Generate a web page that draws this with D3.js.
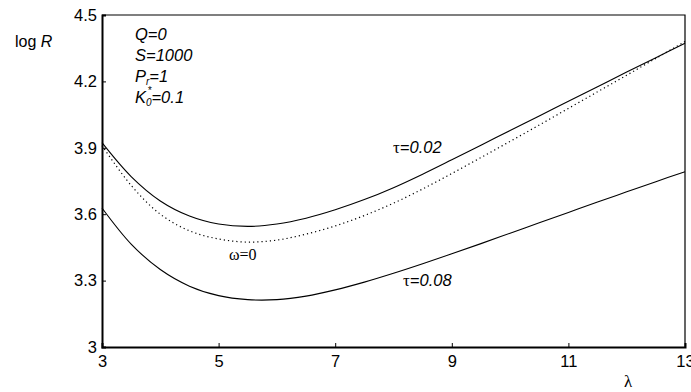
<!DOCTYPE html>
<html>
<head>
<meta charset="utf-8">
<script src="https://cdn.jsdelivr.net/npm/d3@7.9.0/dist/d3.min.js"></script>
<style>
  body { margin: 0; background: #fff; }
  svg { display: block; }
  text { font-family: Arial, "Liberation Sans", sans-serif; fill: #000; }
  .serif { font-family: "Times New Roman", "Liberation Serif", serif; }
</style>
</head>
<body>
<svg width="691" height="392"></svg>
<script>
// lambda values (x axis)
const lambda = [3, 3.5, 4, 4.5, 5, 5.5, 6, 6.5, 7, 7.5, 8, 8.5, 9, 9.5, 10, 10.5, 11, 11.5, 12, 12.5, 13];
// log R, tau = 0.02
const tau002 = [3.923, 3.77, 3.66, 3.592, 3.556, 3.545, 3.556, 3.582, 3.62, 3.666, 3.72, 3.781, 3.846, 3.912, 3.978, 4.044, 4.11, 4.176, 4.242, 4.307, 4.372];
// log R, omega = 0 (dotted)
const omega0 = [3.91, 3.73, 3.6, 3.525, 3.488, 3.474, 3.483, 3.51, 3.547, 3.594, 3.65, 3.714, 3.784, 3.856, 3.929, 4.003, 4.078, 4.153, 4.228, 4.304, 4.38];
// log R, tau = 0.08
const tau008 = [3.628, 3.465, 3.35, 3.275, 3.232, 3.214, 3.214, 3.23, 3.258, 3.293, 3.333, 3.376, 3.421, 3.467, 3.514, 3.561, 3.608, 3.655, 3.701, 3.747, 3.792];

const xTicks = [3, 5, 7, 9, 11, 13];
const yTicks = [3, 3.3, 3.6, 3.9, 4.2, 4.5];

const mLeft = 102, mRight = 685, mTop = 15, mBottom = 347;

const svg = d3.select('svg');

const x = d3.scaleLinear().domain([3, 13]).range([mLeft, mRight]);
const y = d3.scaleLinear().domain([3, 4.5]).range([mBottom, mTop]);

// frame: top and right thin
svg.append('path')
  .attr('d', `M${mLeft},${mTop}H${mRight}V${mBottom}`)
  .attr('fill', 'none')
  .attr('stroke', '#000')
  .attr('stroke-width', 1.2);

// curves
const line = d3.line()
  .x((d) => x(d[0]))
  .y((d) => y(d[1]))
  .curve(d3.curveCatmullRom);

const series = [
  { vals: tau002, dash: null },
  { vals: omega0, dash: '1.2,3' },
  { vals: tau008, dash: null }
];

series.forEach((s) => {
  svg.append('path')
    .datum(lambda.map((l, i) => [l, s.vals[i]]))
    .attr('d', line)
    .attr('fill', 'none')
    .attr('stroke', '#000')
    .attr('stroke-width', s.dash ? 1.2 : 1.1)
    .attr('stroke-dasharray', s.dash);
});

// axes (inward ticks)
const xAxis = svg.append('g')
  .attr('transform', `translate(0,${mBottom})`)
  .call(d3.axisBottom(x).tickValues(xTicks).tickSize(-4).tickPadding(8).tickFormat(d3.format('d')));
const yAxis = svg.append('g')
  .attr('transform', `translate(${mLeft},0)`)
  .call(d3.axisLeft(y).tickValues(yTicks).tickSize(-4).tickPadding(5).tickFormat((d) => d === 3 ? '3' : d3.format('.1f')(d)));

[xAxis, yAxis].forEach((g) => {
  g.select('.domain').attr('stroke-width', 2);
  g.selectAll('text').attr('font-size', 16.5).attr('font-family', 'Arial, "Liberation Sans", sans-serif');
});
xAxis.selectAll('.tick line').attr('stroke-width', 1);
yAxis.selectAll('.tick line').attr('stroke-width', 1);

// axis titles
const yl = svg.append('text').attr('x', 15).attr('y', 47).attr('font-size', 16);
yl.append('tspan').text('log ');
yl.append('tspan').attr('font-style', 'italic').text('R');

svg.append('text').attr('class', 'serif')
  .attr('x', 628).attr('y', 387).attr('font-size', 17)
  .attr('text-anchor', 'middle').text('λ');

// parameters block
const params = svg.append('g').attr('font-size', 16.5).attr('font-style', 'italic');
params.append('text').attr('x', 135).attr('y', 40).text('Q=0');
params.append('text').attr('x', 135).attr('y', 61).text('S=1000');
const pr = params.append('text').attr('x', 135).attr('y', 82);
pr.append('tspan').text('P');
pr.append('tspan').attr('font-size', 10).attr('dy', 3).text('r');
pr.append('tspan').attr('dy', -3).text('=1');
const k0 = params.append('text').attr('x', 135).attr('y', 103);
k0.append('tspan').text('K');
k0.append('tspan').attr('font-size', 10).attr('dy', 3).text('0');
k0.append('tspan').attr('font-size', 10).attr('dy', -12).attr('dx', -4).text('*');
k0.append('tspan').attr('dy', 9).text('=0.1');

// curve labels
function label(xp, yp, greek, rest) {
  const t = svg.append('text').attr('x', xp).attr('y', yp).attr('font-size', 16.5);
  t.append('tspan').attr('class', 'serif').attr('font-size', 17).text(greek);
  if (rest) t.append('tspan').attr('font-style', 'italic').text(rest);
  return t;
}
label(393, 153, 'τ', '=0.02');
label(403, 286, 'τ', '=0.08');
svg.append('text').attr('class', 'serif').attr('x', 229).attr('y', 260)
  .attr('font-size', 16).text('ω=0');
</script>
</body>
</html>
